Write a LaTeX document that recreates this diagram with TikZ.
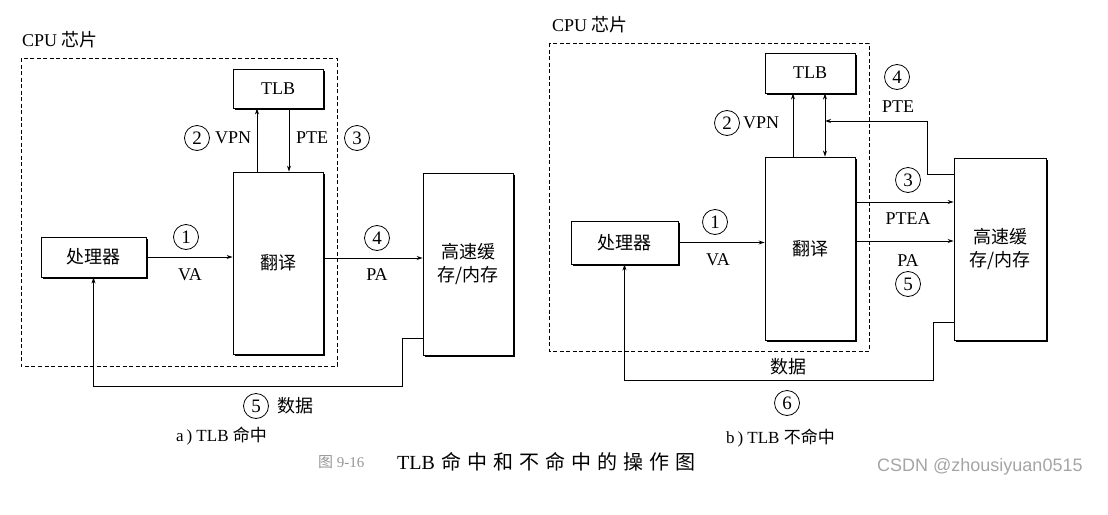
\documentclass[tikz,border=0pt]{standalone}
\usepackage{fontspec}
\setmainfont{Liberation Serif}
\newfontfamily\cjk{Noto Sans CJK SC}
\newfontfamily\cjkwide[LetterSpace=30]{Noto Sans CJK SC}
\newfontfamily\wmfont{Liberation Sans}
\usepackage{tikz}
\usetikzlibrary{arrows.meta,positioning,shadows}
\usepackage{xcolor}
\definecolor{capgray}{RGB}{150,150,150}
\definecolor{wmgray}{RGB}{165,165,165}
\newcommand{\cn}[1]{{\cjk #1}}
\tikzset{
  % block with heavy lower-right edge
  blk/.style={draw, fill=white, line width=0.9pt, inner sep=0pt, align=center,
    font=\fontsize{18}{23}\selectfont,
    drop shadow={shadow xshift=2pt, shadow yshift=-2pt, fill=black, opacity=1}},
  % dashed chip border
  chip/.style={draw, line width=1pt, dash pattern=on 4pt off 2.5pt},
  % circled step number
  stepnum/.style={circle, draw, line width=0.8pt, minimum size=25pt, inner sep=0pt,
    font=\fontsize{19}{19}\selectfont},
  % signal label
  sig/.style={inner sep=0pt, font=\fontsize{18}{18}\selectfont},
  % connectors
  link/.style={-{Stealth[length=6pt,width=4pt]}, line width=0.9pt},
  duallink/.style={{Stealth[length=6pt,width=4pt]}-{Stealth[length=6pt,width=4pt]}, line width=0.9pt},
  % sub-figure caption
  subcap/.style={inner sep=0pt, anchor=west, font=\fontsize{17}{17}\selectfont},
}
\begin{document}
\begin{tikzpicture}[x=1pt, y=-1pt]
  \useasboundingbox (0,0) rectangle (1108,514);

  % a) TLB hit
  \node[sig, anchor=west] (chipA) at (22,40) {CPU \cn{芯片}};
  \draw[chip] (21,58) rectangle (337,366);
  \node[blk, minimum width=90pt, minimum height=39pt] (tlbA) at (278,88.5) {TLB};
  \node[blk, minimum width=90pt, minimum height=182pt] (xlatA) at (278,263) {\cn{翻译}};
  \node[blk, minimum width=105pt, minimum height=40pt] (procA) at (93.5,257) {\cn{处理器}};
  \node[blk, minimum width=90pt, minimum height=182pt] (memA) at (468,264) {\cn{高速缓}\\\cn{存/内存}};

  \draw[link] (procA.east) -- (procA.east -| xlatA.west);
  \draw[link] ([xshift=-21pt]xlatA.north) -- ([xshift=-21pt]tlbA.south);
  \draw[link] ([xshift=11pt]tlbA.south) -- ([xshift=11pt]xlatA.north);
  \draw[link] ([yshift=5pt]xlatA.east) -- ([yshift=5pt]xlatA.east -| memA.west);
  \draw[link] ([yshift=-74pt]memA.west) -- ++(-20,0) -- ++(0,48) -| (procA.south);

  \node[stepnum] (s1A) at (186,237) {1};
  \node[sig] (vaA) at (190,275) {VA};
  \node[stepnum] (s2A) at (197,138) {2};
  \node[sig, right=5pt of s2A] (vpnA) {VPN};
  \node[sig, anchor=west] (pteA) at (296,138) {PTE};
  \node[stepnum] (s3A) at (357,138) {3};
  \node[stepnum] (s4A) at (377,238) {4};
  \node[sig] (paA) at (377,275) {PA};
  \node[stepnum] (s5A) at (256,406) {5};
  \node[sig, right=8pt of s5A] (dataA) {\cn{数据}};
  \node[subcap] (capA) at (176,436) {a\,) TLB \cn{命中}};

  % b) TLB miss
  \node[sig, anchor=west] (chipB) at (552,25) {CPU \cn{芯片}};
  \draw[chip] (549,43) rectangle (869,351);
  \node[blk, minimum width=90pt, minimum height=40pt] (tlbB) at (810,73) {TLB};
  \node[blk, minimum width=90pt, minimum height=183pt] (xlatB) at (810,248.5) {\cn{翻译}};
  \node[blk, minimum width=107pt, minimum height=43pt] (procB) at (624.5,242.5) {\cn{处理器}};
  \node[blk, minimum width=92pt, minimum height=182pt] (memB) at (1000,249) {\cn{高速缓}\\\cn{存/内存}};
  \coordinate (pteB) at (825,121);

  \draw[link] (procB.east) -- (procB.east -| xlatB.west);
  \draw[link] ([xshift=-17pt]xlatB.north) -- ([xshift=-17pt]tlbB.south);
  \draw[duallink] ([xshift=15pt]xlatB.north) -- ([xshift=15pt]tlbB.south);
  \draw[link] ([yshift=75pt]memB.west) -- ++(-26,0) |- (pteB);
  \draw[link] ([yshift=46.5pt]xlatB.east) -- ([yshift=46.5pt]xlatB.east -| memB.west);
  \draw[link] ([yshift=7.5pt]xlatB.east) -- ([yshift=7.5pt]xlatB.east -| memB.west);
  \draw[link] ([yshift=-73pt]memB.west) -- ++(-20,0) -- ++(0,58) -| (procB.south);

  \node[stepnum] (s1B) at (715,222) {1};
  \node[sig] (vaB) at (718,260) {VA};
  \node[stepnum] (s2B) at (727,123) {2};
  \node[sig, right=3pt of s2B] (vpnB) {VPN};
  \node[stepnum] (s4B) at (897,77) {4};
  \node[sig] (pteBl) at (898,107) {PTE};
  \node[stepnum] (s3B) at (908,180) {3};
  \node[sig] (pteaB) at (908,219) {PTEA};
  \node[sig] (paB) at (908,261) {PA};
  \node[stepnum] (s5B) at (908,284) {5};
  \node[sig] (dataB) at (788,367) {\cn{数据}};
  \node[stepnum] (s6B) at (787,403) {6};
  \node[subcap] (capB) at (726,438) {b\,) TLB \cn{不命中}};

  % figure title and mark
  \node[anchor=west, inner sep=0pt, text=capgray, font=\fontsize{15}{15}\selectfont] (fignum) at (318,462) {\cn{图} 9-16};
  \node[anchor=west, inner sep=0pt, font=\fontsize{20}{20}\selectfont] (figtitle) at (397,462) {TLB\hspace{7pt}{\cjkwide 命中和不命中的操作图}};
  \node[anchor=west, inner sep=0pt, text=wmgray, font=\wmfont\fontsize{18}{18}\selectfont] (mark) at (877,467) {CSDN @zhousiyuan0515};
\end{tikzpicture}
\end{document}
